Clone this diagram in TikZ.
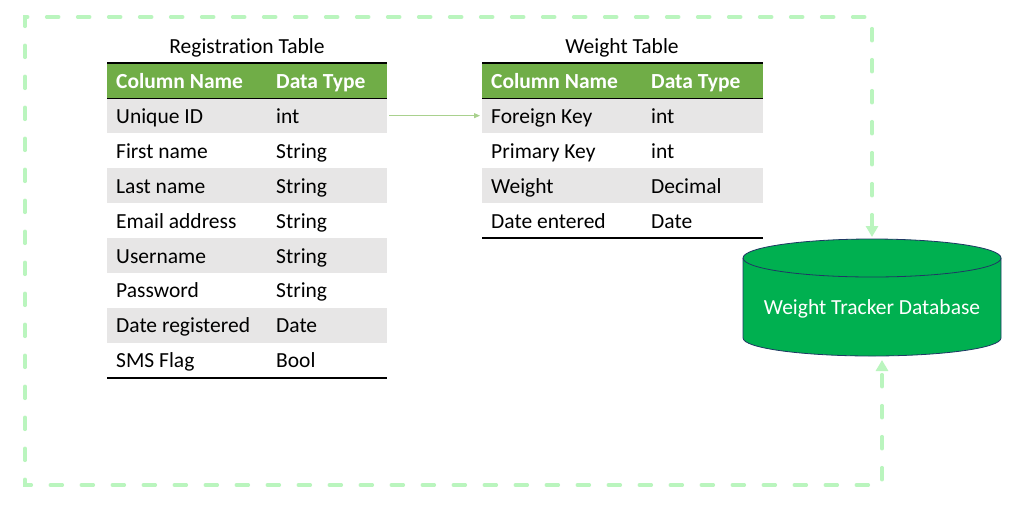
\documentclass[tikz,border=0pt]{standalone}
\usepackage{fontspec}
\setmainfont[Ligatures={NoCommon}]{Carlito}
\usetikzlibrary{arrows.meta}
\definecolor{hdrgreen}{HTML}{70AD47}
\definecolor{rowgray}{HTML}{E7E6E6}
\definecolor{dbgreen}{HTML}{00B050}
\definecolor{dbborder}{HTML}{1F3864}
\definecolor{dashgreen}{RGB}{186,245,190}
\definecolor{fkgreen}{HTML}{A9D18E}
\tikzset{
  rowbox/.style={draw=none, minimum height=34.9pt, inner sep=0pt, anchor=north west},
  hdrbox/.style={rowbox, fill=hdrgreen, minimum height=35pt},
  cell/.style={anchor=base west, inner sep=0pt, font=\fontsize{21.5}{24}\selectfont},
  hdrcell/.style={cell, text=white, font=\fontsize{21.5}{24}\selectfont\bfseries},
  ttl/.style={anchor=base, inner sep=0pt, font=\fontsize{21.5}{24}\selectfont},
  rule/.style={line width=2pt, black},
  subrule/.style={line width=1.3pt, black},
  loop/.style={dashgreen, line width=3.5pt, line cap=round, dash pattern=on 12pt off 19pt},
  fk/.style={fkgreen, line width=0.8pt, -{Triangle[length=6pt,width=5pt]}},
  dbtext/.style={text=white, inner sep=0pt, font=\fontsize{21.5}{24}\selectfont}
}
\begin{document}
\begin{tikzpicture}[x=1pt,y=-1pt]
\useasboundingbox (0,0) rectangle (1024,520);
\fill[white] (0,0) rectangle (1024,520);

% Registration table
\node[ttl] (tA) at (247,53) {Registration Table};
\node[hdrbox, minimum width=280pt] (hA) at (107,63) {};
\node[hdrcell] (hA1) at (116,88) {Column Name};
\node[hdrcell] (hA2) at (276,88) {Data Type};
\foreach \a/\b [count=\i] in {Unique ID/int, First name/String, Last name/String, Email address/String, Username/String, Password/String, Date registered/Date, SMS Flag/Bool}{
  \ifodd\i \def\fc{rowgray}\else\def\fc{white}\fi
  \node[rowbox, fill=\fc, minimum width=280pt] (ra\i) at (107,{98+(\i-1)*34.9}) {};
  \node[cell] (ra\i a) at (116,{98+(\i-0.5)*34.9+8}) {\a};
  \node[cell] (ra\i b) at (276,{98+(\i-0.5)*34.9+8}) {\b};
}
\draw[rule] (hA.north west) -- (hA.north east);
\draw[subrule] (hA.south west) -- (hA.south east);
\draw[rule] (ra8.south west) -- (ra8.south east);

% Weight table
\node[ttl] (tB) at (622,53) {Weight Table};
\node[hdrbox, minimum width=281pt] (hB) at (482,63) {};
\node[hdrcell] (hB1) at (491,88) {Column Name};
\node[hdrcell] (hB2) at (651,88) {Data Type};
\foreach \a/\b [count=\i] in {Foreign Key/int, Primary Key/int, Weight/Decimal, Date entered/Date}{
  \ifodd\i \def\fc{rowgray}\else\def\fc{white}\fi
  \node[rowbox, fill=\fc, minimum width=281pt] (rb\i) at (482,{98+(\i-1)*34.9}) {};
  \node[cell] (rb\i a) at (491,{98+(\i-0.5)*34.9+8}) {\a};
  \node[cell] (rb\i b) at (651,{98+(\i-0.5)*34.9+8}) {\b};
}
\draw[rule] (hB.north west) -- (hB.north east);
\draw[subrule] (hB.south west) -- (hB.south east);
\draw[rule] (rb4.south west) -- (rb4.south east);

% foreign key connector
\draw[fk, shorten <=2pt, shorten >=2pt] (ra1.east) -- (rb1.west);

% database cylinder
\draw[fill=dbgreen, draw=dbborder, line width=0.8pt]
  (743,258) -- (743,338) arc[start angle=180, end angle=360, x radius=129pt, y radius=18pt]
  -- (1001,258) arc[start angle=0, end angle=180, x radius=129pt, y radius=19pt] -- cycle;
\draw[dbborder, line width=0.8pt] (743,258) arc[start angle=180, end angle=360, x radius=129pt, y radius=19pt];
\node[dbtext] (db) at (872,309) {Weight Tracker Database};
\coordinate (dbtop) at (872,237);
\coordinate (dbbot) at (882,360);

% dashed loop
\coordinate (c1) at (872,17);
\coordinate (c2) at (25,17);
\coordinate (c3) at (25,485);
\coordinate (c4) at (882,485);
\draw[loop, {Triangle[length=11pt,width=12pt]}-{Triangle[length=11pt,width=12pt]}]
  (dbtop) -- (c1) -- (c2) -- (c3) -- (c4) -- (dbbot);
\end{tikzpicture}
\end{document}
